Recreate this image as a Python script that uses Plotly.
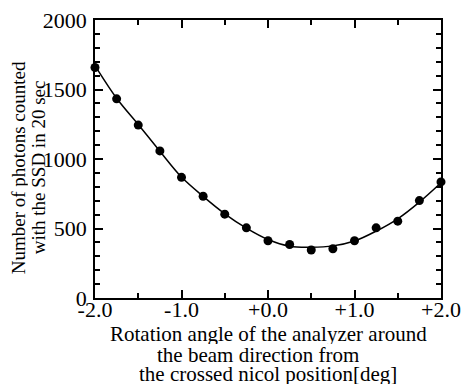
import plotly.graph_objects as go

# measured data points
angle = [-2.0, -1.75, -1.5, -1.25, -1.0, -0.75, -0.5, -0.25, 0.0,
         0.25, 0.5, 0.75, 1.0, 1.25, 1.5, 1.75, 2.0]
counts = [1658, 1433, 1244, 1058, 868, 732, 603, 505, 412,
          385, 345, 354, 412, 505, 553, 701, 835]

# fitted curve
fit_angle = angle
fit_counts = [1672, 1437, 1248, 1056, 870, 731, 606, 503, 421,
              373, 366, 375, 410, 481, 570, 690, 829]

x_tickvals = [-2.0, -1.0, 0.0, 1.0, 2.0]
x_ticktext = ["-2.0", "-1.0", "+0.0", "+1.0", "+2.0"]
y_tickvals = [0, 500, 1000, 1500, 2000]
y_ticktext = ["0", "500", "1000", "1500", "2000"]

xtitle_lines = ["Rotation angle of the analyzer around",
                "the beam direction from",
                "the crossed nicol position[deg]"]
ytitle_lines = ["Number of photons counted",
                "with the SSD in 20 sec"]

FONT = "Liberation Serif"

fig = go.Figure()
fig.add_trace(go.Scatter(x=fit_angle, y=fit_counts, mode="lines",
                         line=dict(color="black", width=1.5, shape="spline"),
                         hoverinfo="skip", cliponaxis=False))
fig.add_trace(go.Scatter(x=angle, y=counts, mode="markers",
                         marker=dict(color="black", size=9),
                         cliponaxis=False))

axis_common = dict(showgrid=False, zeroline=False, showline=True,
                   automargin=False,
                   linecolor="black", linewidth=1.5, mirror="allticks",
                   ticks="inside", tickcolor="black", tickwidth=1.5,
                   ticklen=8,
                   tickfont=dict(family=FONT, size=22, color="black"))

fig.update_xaxes(range=[-2.0, 2.0], tickvals=x_tickvals, ticktext=x_ticktext,
                 ticklabelstandoff=-9,
                 minor=dict(dtick=0.5, ticks="inside", ticklen=5,
                            tickcolor="black", tickwidth=1.5),
                 **axis_common)
fig.update_yaxes(range=[0, 2000], tickvals=y_tickvals, ticktext=y_ticktext,
                 ticklabelstandoff=2,
                 minor=dict(dtick=100, ticks="inside", ticklen=5,
                            tickcolor="black", tickwidth=1.5),
                 **axis_common)

annotations = []
xshifts_y = [-76.5, -56.5]
for line, xs in zip(ytitle_lines, xshifts_y):
    annotations.append(dict(text=line, xref="paper", yref="paper",
                            x=0, y=0.4686, xshift=xs, textangle=-90,
                            height=19,
                            showarrow=False, xanchor="center", yanchor="middle",
                            font=dict(family=FONT, size=19, color="black")))
yshifts_x = [-36, -57, -76]
xshifts_x = [0, -10, 0]
for line, ys, xs in zip(xtitle_lines, yshifts_x, xshifts_x):
    annotations.append(dict(text=line, xref="paper", yref="paper",
                            x=0.5, y=0, yshift=ys, xshift=xs, height=20,
                            showarrow=False, xanchor="center", yanchor="middle",
                            font=dict(family=FONT, size=21, color="black")))

fig.update_layout(template="none", width=462, height=385,
                  margin=dict(l=95, r=21, t=20, b=86.5, autoexpand=False),
                  font=dict(family=FONT, color="black"),
                  plot_bgcolor="white", paper_bgcolor="white",
                  showlegend=False, annotations=annotations)

fig.write_html("out.html")
